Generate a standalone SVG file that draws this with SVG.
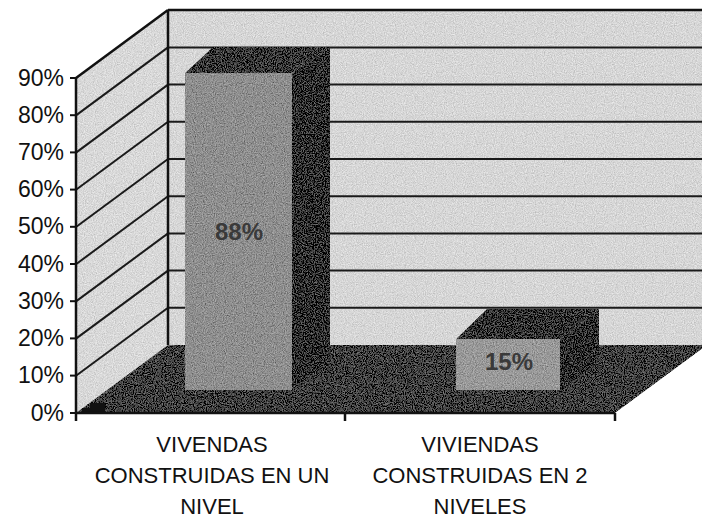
<svg xmlns="http://www.w3.org/2000/svg" width="702" height="519" viewBox="0 0 702 519">
<defs>
<filter id="grain" filterUnits="userSpaceOnUse" x="0" y="0" width="702" height="519">
<feTurbulence type="fractalNoise" baseFrequency="0.9" numOctaves="2" seed="4" result="t"/>
<feColorMatrix in="t" type="matrix" values="1 0 0 0 0  1 0 0 0 0  1 0 0 0 0  0 0 0 0 1" result="g"/>
<feComposite in="SourceGraphic" in2="g" operator="arithmetic" k1="0" k2="1" k3="0.5" k4="-0.25" result="b"/>
<feComposite in="b" in2="SourceGraphic" operator="in"/>
</filter>
<style>
.grid{stroke:#1a1a1a;stroke-width:2;fill:none}
.edge{stroke:#111;stroke-width:2.5;fill:none}
.ylab{font-family:"Liberation Sans",Arial,sans-serif;font-size:23px;fill:#111;text-anchor:end}
.xlab{font-family:"Liberation Sans",Arial,sans-serif;font-size:22px;fill:#111;text-anchor:middle}
.val{font-family:"Liberation Sans",Arial,sans-serif;font-size:24px;font-weight:bold;fill:#3a3a3a;text-anchor:middle}
</style>
</defs>
<rect width="702" height="519" fill="#ffffff"/>
<g id="plot-area" filter="url(#grain)">
<rect id="back-wall" x="168" y="10" width="534" height="335" fill="#d6d6d6"/>
<polygon id="side-wall" points="76,78 168,10 168,345 76,413" fill="#d8d8d8"/>
<polygon id="floor" points="76,413 168,345 707,345 615,413" fill="#404040"/>
</g>
<g id="gridlines">
<line class="grid" x1="168" y1="307.8" x2="702" y2="307.8"/>
<line class="grid" x1="168" y1="270.6" x2="702" y2="270.6"/>
<line class="grid" x1="168" y1="233.4" x2="702" y2="233.4"/>
<line class="grid" x1="168" y1="196.2" x2="702" y2="196.2"/>
<line class="grid" x1="168" y1="159" x2="702" y2="159"/>
<line class="grid" x1="168" y1="121.8" x2="702" y2="121.8"/>
<line class="grid" x1="168" y1="84.6" x2="702" y2="84.6"/>
<line class="grid" x1="168" y1="47.4" x2="702" y2="47.4"/>
<line class="edge" x1="168" y1="10" x2="702" y2="10"/>
<line class="grid" x1="76" y1="375.8" x2="168" y2="307.8"/>
<line class="grid" x1="76" y1="338.6" x2="168" y2="270.6"/>
<line class="grid" x1="76" y1="301.4" x2="168" y2="233.4"/>
<line class="grid" x1="76" y1="264.2" x2="168" y2="196.2"/>
<line class="grid" x1="76" y1="227" x2="168" y2="159"/>
<line class="grid" x1="76" y1="189.8" x2="168" y2="121.8"/>
<line class="grid" x1="76" y1="152.6" x2="168" y2="84.6"/>
<line class="grid" x1="76" y1="115.4" x2="168" y2="47.4"/>
<line class="edge" x1="76" y1="78" x2="168" y2="10"/>
<line class="edge" x1="168" y1="10" x2="168" y2="345"/>
</g>
<g id="bar-1" filter="url(#grain)">
<polygon points="292,73 330,47 330,362 292,390" fill="#2e2e2e"/>
<polygon points="185,73 213,47 330,47 292,73" fill="#383838"/>
<rect x="185" y="73" width="107" height="317" fill="#8e8e8e"/>
</g>
<text class="val" x="239" y="240">88%</text>
<g id="bar-2" filter="url(#grain)">
<polygon points="560,339 599,309 599,362 560,390" fill="#2c2c2c"/>
<polygon points="456,339 487,309 599,309 560,339" fill="#333333"/>
<rect x="456" y="339" width="104" height="51" fill="#999999"/>
</g>
<text class="val" x="509" y="370">15%</text>
<path id="legend-key" d="M82,413 L82,408 L90,408 L90,403 L105,403 L105,413 Z" fill="#111"/>
<g id="axes">
<line class="edge" x1="76" y1="78" x2="76" y2="421"/>
<line class="edge" x1="76" y1="413" x2="615" y2="413"/>
<line class="edge" x1="345" y1="413" x2="345" y2="421"/>
<line class="edge" x1="615" y1="413" x2="615" y2="421"/>
<g stroke="#111" stroke-width="2">
<line x1="70" y1="78" x2="76" y2="78"/>
<line x1="70" y1="115.2" x2="76" y2="115.2"/>
<line x1="70" y1="152.4" x2="76" y2="152.4"/>
<line x1="70" y1="189.6" x2="76" y2="189.6"/>
<line x1="70" y1="226.8" x2="76" y2="226.8"/>
<line x1="70" y1="264" x2="76" y2="264"/>
<line x1="70" y1="301.2" x2="76" y2="301.2"/>
<line x1="70" y1="338.4" x2="76" y2="338.4"/>
<line x1="70" y1="375.6" x2="76" y2="375.6"/>
<line x1="70" y1="413" x2="76" y2="413"/>
</g>
</g>
<g id="y-labels">
<text class="ylab" x="64" y="86">90%</text>
<text class="ylab" x="64" y="123">80%</text>
<text class="ylab" x="64" y="160">70%</text>
<text class="ylab" x="64" y="197">60%</text>
<text class="ylab" x="64" y="234">50%</text>
<text class="ylab" x="64" y="272">40%</text>
<text class="ylab" x="64" y="309">30%</text>
<text class="ylab" x="64" y="346">20%</text>
<text class="ylab" x="64" y="383">10%</text>
<text class="ylab" x="64" y="421">0%</text>
</g>
<g id="category-1">
<text class="xlab" x="212" y="452">VIVENDAS</text>
<text class="xlab" x="212" y="483">CONSTRUIDAS EN UN</text>
<text class="xlab" x="212" y="514">NIVEL</text>
</g>
<g id="category-2">
<text class="xlab" x="480" y="452">VIVIENDAS</text>
<text class="xlab" x="480" y="483">CONSTRUIDAS EN 2</text>
<text class="xlab" x="480" y="514">NIVELES</text>
</g>
</svg>
